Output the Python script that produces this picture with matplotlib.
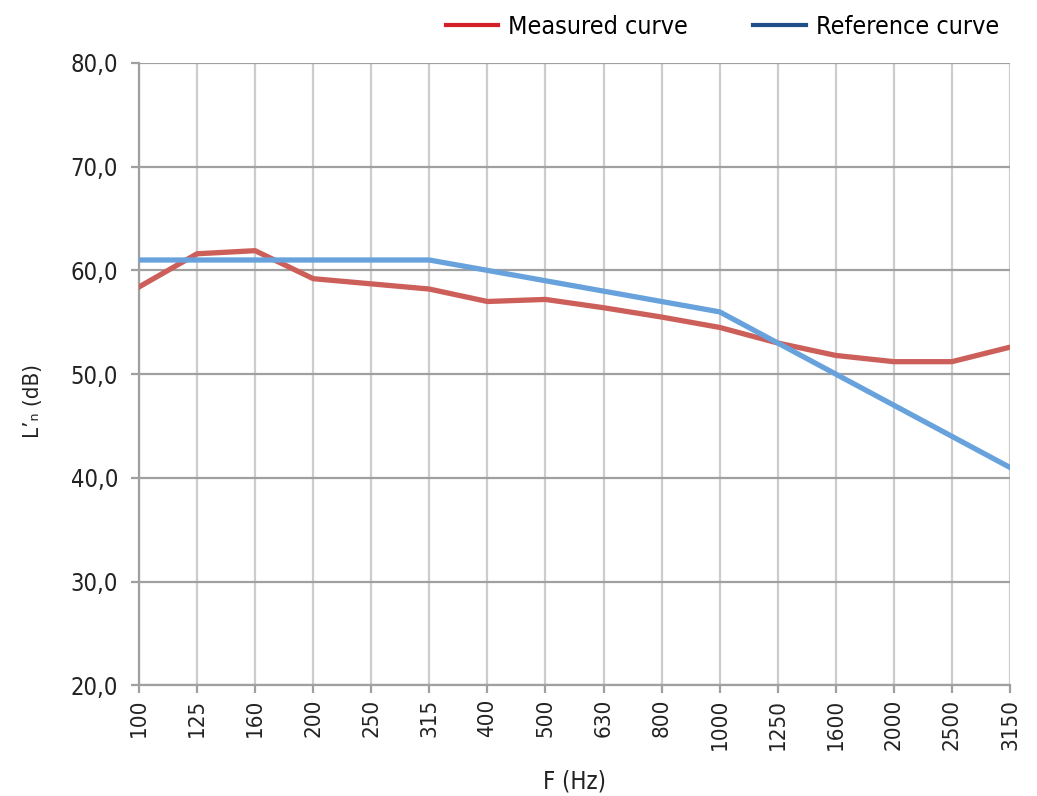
import matplotlib
matplotlib.use("Agg")
import matplotlib.pyplot as plt
from matplotlib.lines import Line2D

plt.rcParams["font.family"] = ["DejaVu Sans"]
plt.rcParams["font.stretch"] = "condensed"

freqs = ["100", "125", "160", "200", "250", "315", "400", "500", "630",
         "800", "1000", "1250", "1600", "2000", "2500", "3150"]
measured = [58.4, 61.6, 61.9, 59.2, 58.7, 58.2, 57.0, 57.2, 56.4,
            55.5, 54.5, 53.0, 51.8, 51.2, 51.2, 52.6]
reference = [61, 61, 61, 61, 61, 61, 60, 59, 58, 57, 56, 53, 50, 47, 44, 41]
yticks = [20, 30, 40, 50, 60, 70, 80]
ytick_labels = ["20,0", "30,0", "40,0", "50,0", "60,0", "70,0", "80,0"]

fig = plt.figure(figsize=(10.37, 7.96), dpi=100)
ax = fig.add_axes([0.134, 0.139, 0.840, 0.782])

x = list(range(len(freqs)))
ax.plot(x, measured, color="#CD5F5A", lw=3.8, solid_joinstyle="round", zorder=3)
ax.plot(x, reference, color="#68A2DD", lw=3.8, solid_joinstyle="round", zorder=4)

ax.set_xlim(0, len(freqs) - 1)
ax.set_ylim(20, 80)
ax.set_xticks(x)
ax.set_xticklabels(freqs, rotation=90, fontsize=16)
ax.set_yticks(yticks)
ax.set_yticklabels(ytick_labels, fontsize=17)

ax.grid(axis="y", color="#A0A0A0", lw=1.6)
ax.grid(axis="x", color="#CCCCCC", lw=1.6)
ax.set_axisbelow(True)
for s in ["top", "right"]:
    ax.spines[s].set_visible(False)
for s in ["left", "bottom"]:
    ax.spines[s].set_color("#A0A0A0")
    ax.spines[s].set_linewidth(1.6)
ax.tick_params(axis="both", color="#A0A0A0", width=1.6, length=6, labelcolor="#222222")
ax.tick_params(axis="y", pad=9)

ax.set_xlabel("F (Hz)", fontsize=17, color="#222222", labelpad=14)
ax.set_ylabel("L’ₙ (dB)", fontsize=16, color="#222222")
ax.yaxis.set_label_coords(-0.110, 0.457)

handles = [Line2D([], [], color="#D42127", lw=3),
           Line2D([], [], color="#1F4E89", lw=3)]
fig.legend(handles, ["Measured curve", "Reference curve"], loc="upper right",
           bbox_to_anchor=(0.985, 1.01), ncol=2, frameon=False, fontsize=18,
           handlelength=2.1, columnspacing=2.6, handletextpad=0.4)

fig.savefig("out.png", dpi=100)
